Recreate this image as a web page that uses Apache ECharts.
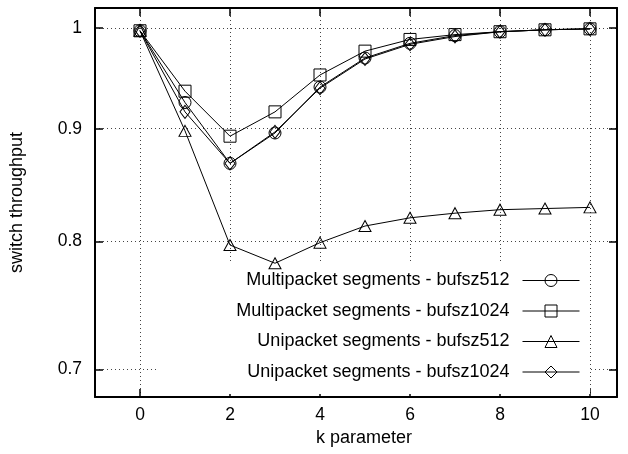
<!DOCTYPE html>
<html>
<head>
<meta charset="utf-8">
<script src="https://cdn.jsdelivr.net/npm/echarts@6/dist/echarts.min.js"></script>
<style>html,body{margin:0;padding:0;background:#fff}#c{width:628px;height:454px}</style>
</head>
<body>
<div id="c"></div>
<script>
var kValues = [0, 1, 2, 3, 4, 5, 6, 7, 8, 9, 10];
var multi512 = [0.997, 0.925, 0.868, 0.896, 0.940, 0.969, 0.984, 0.992, 0.996, 0.998, 0.999];
var multi1024 = [0.997, 0.936, 0.893, 0.916, 0.952, 0.976, 0.988, 0.993, 0.996, 0.998, 0.999];
var uni512 = [0.997, 0.898, 0.797, 0.782, 0.799, 0.813, 0.820, 0.824, 0.827, 0.828, 0.829];
var uni1024 = [0.997, 0.916, 0.868, 0.897, 0.939, 0.968, 0.983, 0.991, 0.996, 0.998, 0.999];
var xTicks = [0, 2, 4, 6, 8, 10];
var yTicks = [0.7, 0.8, 0.9, 1];
var seriesNames = ['Multipacket segments - bufsz512', 'Multipacket segments - bufsz1024', 'Unipacket segments - bufsz512', 'Unipacket segments - bufsz1024'];
var seriesValues = [multi512, multi1024, uni512, uni1024];
var seriesSymbols = ['circle', 'rect', 'triangle', 'diamond'];

var FONT = 'Liberation Sans, Arial, Helvetica, sans-serif';
var chart = echarts.init(document.getElementById('c'));

function pairs(vals) {
  return kValues.map(function (k, i) { return [k, vals[i]]; });
}

var symSizes = { circle: 12, rect: 12, triangle: [12, 11], diamond: [10, 13] };

var series = seriesNames.map(function (name, i) {
  return {
    name: name,
    type: 'line',
    data: pairs(seriesValues[i]),
    symbol: seriesSymbols[i],
    symbolSize: symSizes[seriesSymbols[i]],
    showAllSymbol: true,
    color: '#000',
    lineStyle: { color: '#000', width: 1 },
    itemStyle: { color: 'rgba(0,0,0,0)', borderColor: '#000', borderWidth: 1 },
    emphasis: { disabled: true },
    animation: false,
    z: 7
  };
});

var axisLineStyle = { color: '#000', width: 2 };
var tickStyle = { color: '#000', width: 1.5 };

chart.setOption({
  animation: false,
  backgroundColor: '#fff',
  textStyle: { fontFamily: FONT },
  grid: { left: 95, right: 11, top: 8, bottom: 57, containLabel: false },
  legend: {
    z: 6,
    orient: 'vertical',
    align: 'right',
    right: 38,
    top: 264,
    itemWidth: 57,
    itemHeight: 15,
    itemGap: 12.5,
    padding: [7.5, 10, 13, 78],
    backgroundColor: '#fff',
    selectedMode: false,
    itemStyle: { borderWidth: 1, borderColor: '#000', color: 'rgba(0,0,0,0)' },
    lineStyle: { width: 1, color: '#000' },
    textStyle: { fontFamily: FONT, fontSize: 18, color: '#000', padding: [0, 8, 0, 0] },
    data: seriesNames
  },
  xAxis: [{
    type: 'value',
    min: -1,
    max: 10.6,
    name: 'k parameter',
    nameLocation: 'middle',
    nameGap: 29,
    nameTextStyle: { fontFamily: FONT, fontSize: 18, color: '#000', padding: [0, 0, 0, 16] },
    axisLine: { show: true, onZero: false, lineStyle: axisLineStyle },
    axisTick: { show: true, inside: true, length: 8, lineStyle: tickStyle, customValues: xTicks },
    axisLabel: { show: true, margin: 9, fontFamily: FONT, fontSize: 17.5, color: '#000', customValues: xTicks },
    splitLine: { show: true, lineStyle: { color: '#444', width: 1, type: [1, 3] } },
    z: 5
  }, {
    type: 'value',
    position: 'top',
    min: -1,
    max: 10.6,
    axisLine: { show: true, onZero: false, lineStyle: axisLineStyle },
    axisTick: { show: true, inside: true, length: 8, lineStyle: tickStyle, customValues: xTicks },
    axisLabel: { show: false, customValues: xTicks },
    splitLine: { show: false },
    z: 5
  }],
  yAxis: [{
    type: 'log',
    logBase: 10,
    min: 0.68,
    max: 1.021,
    name: 'switch throughput',
    nameLocation: 'middle',
    nameGap: 69,
    nameTextStyle: { fontFamily: FONT, fontSize: 18, color: '#000' },
    axisLine: { show: true, onZero: false, lineStyle: axisLineStyle },
    axisTick: { show: true, inside: true, length: 8, lineStyle: tickStyle, customValues: yTicks },
    axisLabel: {
      show: true, margin: 13, fontFamily: FONT, fontSize: 17.5, color: '#000', customValues: yTicks,
      formatter: function (v) { return String(Math.round(v * 10) / 10); }
    },
    splitLine: { show: true, lineStyle: { color: '#444', width: 1, type: [1, 3] } },
    z: 5
  }, {
    type: 'log',
    logBase: 10,
    position: 'right',
    min: 0.68,
    max: 1.021,
    axisLine: { show: true, onZero: false, lineStyle: axisLineStyle },
    axisTick: { show: true, inside: true, length: 8, lineStyle: tickStyle, customValues: yTicks },
    axisLabel: { show: false, customValues: yTicks },
    splitLine: { show: false },
    z: 5
  }],
  series: series
});
</script>
</body>
</html>
